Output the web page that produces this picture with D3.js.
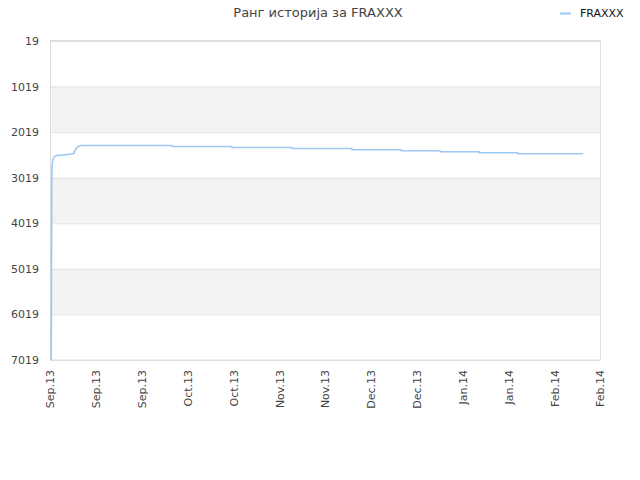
<!DOCTYPE html>
<html>
<head>
<meta charset="utf-8">
<script src="https://cdn.jsdelivr.net/npm/d3@7"></script>
<style>
  body { margin: 0; background: #fff; }
  svg { display: block; font-family: 'DejaVu Sans', sans-serif; }
</style>
</head>
<body>
<svg id="chart" width="640" height="480"></svg>
<script>
// rank history
const dates = [
    '2013-09-01T09:00', '2013-09-01T11:00', '2013-09-01T13:00', '2013-09-01T14:30',
    '2013-09-01T17:00', '2013-09-01T21:00', '2013-09-02T05:00', '2013-09-02T19:00',
    '2013-09-04T16:00', '2013-09-07T03:00', '2013-09-08T07:00', '2013-09-08T14:00',
    '2013-09-08T22:00', '2013-09-09T12:00', '2013-09-10T12:00',
    '2013-10-08T06:00', '2013-10-08T07:00',
    '2013-10-26T13:00', '2013-10-26T14:00',
    '2013-11-13T22:00', '2013-11-13T23:00',
    '2013-12-02T05:00', '2013-12-02T06:00',
    '2013-12-17T06:00', '2013-12-17T07:00',
    '2013-12-29T03:00', '2013-12-29T04:00',
    '2014-01-10T01:00', '2014-01-10T02:00',
    '2014-01-21T22:00', '2014-01-21T23:00',
    '2014-02-10T20:00'
]
const ranks = [
    7019, 4600, 3200, 2800,
    2700, 2630, 2570, 2535,
    2520, 2505, 2485, 2430,
    2390, 2335, 2312,
    2312, 2334,
    2334, 2356,
    2356, 2378,
    2378, 2404,
    2404, 2426,
    2426, 2450,
    2450, 2472,
    2472, 2494,
    2494
]
const yTicks = [19, 1019, 2019, 3019, 4019, 5019, 6019, 7019]
const xTickDates = [
    '2013-09-01', '2013-09-15', '2013-09-29', '2013-10-13', '2013-10-27',
    '2013-11-10', '2013-11-24', '2013-12-08', '2013-12-22', '2014-01-05',
    '2014-01-19', '2014-02-02', '2014-02-16'
]
const xTickLabels = [
    'Sep.13', 'Sep.13', 'Sep.13', 'Oct.13', 'Oct.13', 'Nov.13', 'Nov.13',
    'Dec.13', 'Dec.13', 'Jan.14', 'Jan.14', 'Feb.14', 'Feb.14'
]
const seriesName = 'FRAXXX'
const title = 'Ранг историја за FRAXXX'

const parse = d3.isoParse
const data = dates.map((d, i) => ({ date: parse(d), rank: ranks[i] }))
const tickDates = xTickDates.map(parse)

const plotLeft = 50, plotRight = 600, plotTop = 41, plotBottom = 360
const lineColor = '#9dc8f3'

const svg = d3.select('#chart')

const xScale = d3.scaleTime()
    .domain([tickDates[0], tickDates[tickDates.length - 1]])
    .range([plotLeft, plotRight])

const yScale = d3.scaleLinear()
    .domain([yTicks[0], yTicks[yTicks.length - 1]])
    .range([plotTop, plotBottom])

// alternating bands
const bands = d3.pairs(yTicks).filter((p, i) => i % 2 === 1)
svg.append('g')
    .selectAll('rect')
    .data(bands)
    .enter()
    .append('rect')
    .attr('x', plotLeft)
    .attr('y', (b) => yScale(b[0]))
    .attr('width', plotRight - plotLeft)
    .attr('height', (b) => yScale(b[1]) - yScale(b[0]))
    .attr('fill', '#f3f3f3')

// horizontal grid
svg.append('g')
    .attr('transform', `translate(${plotLeft}, 0)`)
    .call(d3.axisLeft(yScale).tickValues(yTicks).tickSize(-(plotRight - plotLeft)).tickFormat(''))
    .call((g) => g.select('.domain').remove())
    .call((g) => g.selectAll('line').attr('stroke', '#e2e2e2'))

// plot frame
svg.append('rect')
    .attr('x', plotLeft + 0.5)
    .attr('y', plotTop - 0.5)
    .attr('width', plotRight - plotLeft)
    .attr('height', plotBottom - plotTop + 0.5)
    .attr('fill', 'none')
    .attr('stroke', '#dddddd')

// y labels
svg.append('g')
    .attr('transform', `translate(${plotLeft}, 0)`)
    .call(d3.axisLeft(yScale).tickValues(yTicks).tickSize(0).tickPadding(11).tickFormat(d3.format('d')))
    .call((g) => g.select('.domain').remove())
    .call((g) => g.selectAll('text')
        .attr('fill', '#444')
        .style('font-size', '11px')
        .style('font-family', "'DejaVu Sans', sans-serif"))

// x labels
svg.append('g')
    .attr('transform', `translate(0, ${plotBottom})`)
    .call(d3.axisBottom(xScale).tickValues(tickDates).tickSize(0).tickFormat((d, i) => xTickLabels[i]))
    .call((g) => g.select('.domain').remove())
    .call((g) => g.selectAll('text')
        .attr('transform', 'rotate(-90)')
        .attr('text-anchor', 'end')
        .attr('x', -10)
        .attr('y', 0)
        .attr('dy', '0.35em')
        .attr('fill', '#444')
        .style('font-size', '11px')
        .style('font-family', "'DejaVu Sans', sans-serif"))

// rank line
const line = d3.line()
    .x((d) => xScale(d.date))
    .y((d) => yScale(d.rank))

svg.append('path')
    .datum(data)
    .attr('fill', 'none')
    .attr('stroke', lineColor)
    .attr('stroke-width', 1.6)
    .attr('d', line)

// title
svg.append('text')
    .attr('x', 318)
    .attr('y', 17)
    .attr('text-anchor', 'middle')
    .attr('fill', '#444')
    .style('font-size', '13px')
    .text(title)

// legend
svg.append('line')
    .attr('x1', 560)
    .attr('x2', 571)
    .attr('y1', 13.5)
    .attr('y2', 13.5)
    .attr('stroke', lineColor)
    .attr('stroke-width', 2)

svg.append('text')
    .attr('x', 580)
    .attr('y', 17)
    .attr('fill', '#111')
    .style('font-size', '11px')
    .text(seriesName)
</script>
</body>
</html>
